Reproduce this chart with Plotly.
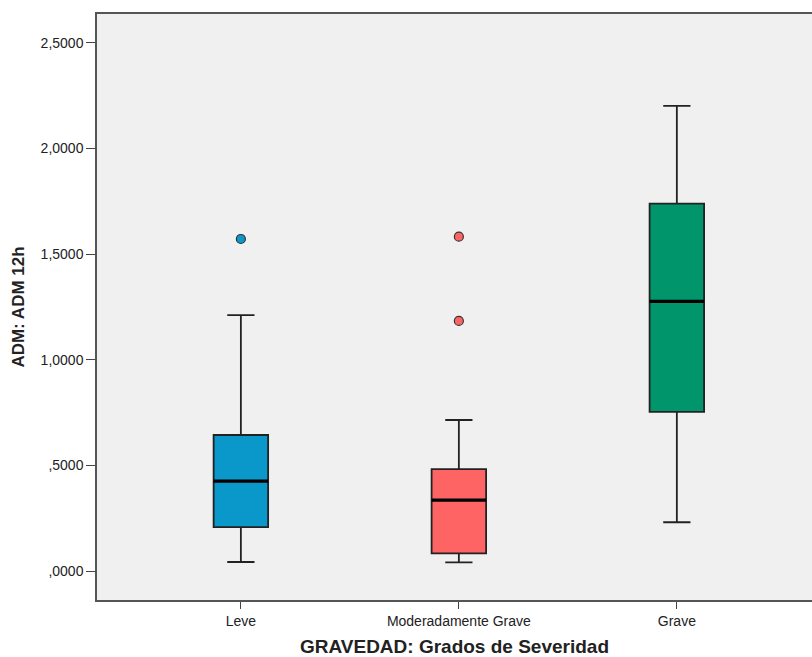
import plotly.graph_objects as go

categories = ["Leve", "Moderadamente Grave", "Grave"]
q1 = [0.208, 0.084, 0.754]
median = [0.426, 0.336, 1.277]
q3 = [0.644, 0.483, 1.739]
lowerfence = [0.043, 0.041, 0.231]
upperfence = [1.212, 0.715, 2.202]
outliers = [[1.572], [1.583, 1.184], []]
colors = ["#0A97C9", "#FF6464", "#00956A"]
yticks = [0.0, 0.5, 1.0, 1.5, 2.0, 2.5]
yticklabels = [",0000", ",5000", "1,0000", "1,5000", "2,0000", "2,5000"]

fig = go.Figure()
for i, cat in enumerate(categories):
    fig.add_trace(go.Box(
        x=[i], q1=[q1[i]], median=[median[i]], q3=[q3[i]],
        lowerfence=[lowerfence[i]], upperfence=[upperfence[i]],
        fillcolor=colors[i], line=dict(color="#222222", width=1.8),
        width=0.25, whiskerwidth=0.5, boxpoints=False, showlegend=False,
        hoverinfo="skip",
    ))
    # thicker median line
    fig.add_shape(type="line", xref="x", yref="y",
                  x0=i - 0.125, x1=i + 0.125, y0=median[i], y1=median[i],
                  line=dict(color="black", width=3.2))
    if outliers[i]:
        fig.add_trace(go.Scatter(
            x=[i] * len(outliers[i]), y=outliers[i], mode="markers",
            marker=dict(color=colors[i], size=9, line=dict(color="#333333", width=1.2)),
            showlegend=False, hoverinfo="skip",
        ))

fig.update_layout(
    width=812, height=657,
    margin=dict(l=97, r=0, t=14, b=57),
    paper_bgcolor="white", plot_bgcolor="#F0F0F0",
    font=dict(family="Liberation Sans, Arial, sans-serif", color="#222222"),
    xaxis=dict(
        range=[-0.66, 2.62], tickvals=[0, 1, 2], ticktext=categories,
        showgrid=False, zeroline=False, showline=True, mirror=True,
        linecolor="#555555", linewidth=1.5,
        ticks="outside", ticklen=7, tickcolor="#444444", tickwidth=1.2,
        tickfont=dict(size=14, color="#222222"),
        title=dict(text="<b>GRAVEDAD: Grados de Severidad</b>",
                   font=dict(size=19, color="#222222"), standoff=12),
    ),
    yaxis=dict(
        range=[-0.137, 2.637], tickvals=yticks, ticktext=yticklabels,
        showgrid=False, zeroline=False, showline=True,
        linecolor="#555555", linewidth=1.5,
        ticks="outside", ticklen=9, tickcolor="#444444", tickwidth=1.2,
        tickfont=dict(size=14, color="#222222"),
        title=dict(text="<b>ADM: ADM 12h</b>",
                   font=dict(size=17, color="#222222"), standoff=12),
    ),
)

fig.write_html("out.html")
